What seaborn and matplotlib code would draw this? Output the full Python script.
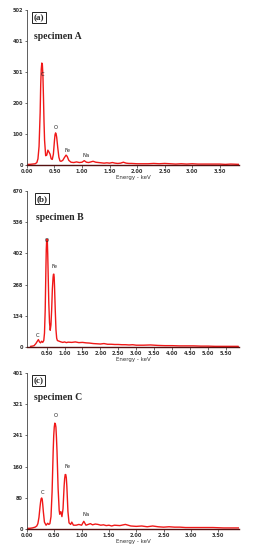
import matplotlib
matplotlib.use("Agg")
import matplotlib.pyplot as plt
import seaborn as sns
import pandas as pd

# ---------------- data ----------------
energy_a = [0.00, 0.05, 0.10, 0.15, 0.18, 0.20, 0.22, 0.24, 0.25, 0.26, 0.27, 0.28, 0.29, 0.30,
            0.31, 0.32, 0.34, 0.36, 0.38, 0.40, 0.42, 0.44, 0.46, 0.48, 0.50, 0.51, 0.52, 0.53,
            0.54, 0.56, 0.58, 0.60, 0.62, 0.65, 0.68, 0.71, 0.73, 0.76, 0.80, 0.85, 0.90, 0.95,
            1.00, 1.04, 1.08, 1.12, 1.16, 1.20, 1.25, 1.30, 1.35, 1.40, 1.45, 1.50, 1.55, 1.60,
            1.65, 1.70, 1.75, 1.80, 1.85, 1.90, 2.00, 2.10, 2.20, 2.30, 2.40, 2.50, 2.60, 2.70,
            2.80, 2.90, 3.00, 3.10, 3.20, 3.30, 3.40, 3.50, 3.60, 3.70, 3.85]
counts_a = [2, 2, 3, 4, 8, 20, 60, 170, 260, 310, 330, 325, 290, 220,
            140, 80, 30, 32, 48, 42, 35, 20, 18, 35, 80, 98, 104, 100,
            90, 55, 25, 13, 12, 15, 24, 32, 28, 15, 9, 8, 10, 8,
            9, 14, 9, 8, 10, 12, 9, 8, 7, 6, 7, 6, 8, 6,
            5, 6, 9, 6, 5, 5, 4, 4, 4, 5, 4, 5, 4, 3,
            4, 3, 4, 3, 3, 3, 3, 3, 2, 3, 2]

energy_b = [0.05, 0.10, 0.15, 0.20, 0.24, 0.27, 0.30, 0.33, 0.36, 0.39, 0.42, 0.44, 0.46, 0.48,
            0.49, 0.50, 0.51, 0.52, 0.53, 0.54, 0.56, 0.58, 0.60, 0.62, 0.64, 0.66, 0.68, 0.69,
            0.70, 0.71, 0.72, 0.74, 0.76, 0.78, 0.80, 0.85, 0.90, 0.95, 1.00, 1.05, 1.10, 1.20,
            1.30, 1.40, 1.50, 1.60, 1.70, 1.80, 1.90, 2.00, 2.10, 2.20, 2.30, 2.40, 2.50, 2.60,
            2.70, 2.80, 2.90, 3.00, 3.20, 3.40, 3.60, 3.80, 4.00, 4.20, 4.40, 4.60, 4.80, 5.00,
            5.20, 5.40, 5.60, 5.85]
counts_b = [3, 4, 6, 15, 25, 32, 22, 18, 25, 20, 28, 60, 160, 340,
            420, 455, 463, 450, 400, 330, 190, 105, 72, 95, 160, 250, 300, 312,
            313, 300, 260, 160, 75, 38, 28, 25, 22, 20, 22, 19, 21, 20,
            22, 19, 20, 18, 17, 15, 14, 13, 15, 12, 12, 11, 11, 10,
            10, 9, 10, 8, 8, 9, 7, 6, 6, 5, 5, 5, 4, 4,
            3, 3, 3, 3]

energy_c = [0.00, 0.05, 0.10, 0.15, 0.18, 0.20, 0.22, 0.24, 0.25, 0.26, 0.27, 0.28, 0.29, 0.30,
            0.32, 0.35, 0.38, 0.40, 0.42, 0.44, 0.46, 0.48, 0.49, 0.50, 0.51, 0.52, 0.53, 0.54,
            0.55, 0.57, 0.59, 0.60, 0.62, 0.64, 0.66, 0.68, 0.69, 0.70, 0.71, 0.72, 0.73, 0.75,
            0.77, 0.80, 0.82, 0.85, 0.90, 0.95, 1.00, 1.04, 1.08, 1.12, 1.16, 1.20, 1.25, 1.30,
            1.35, 1.40, 1.45, 1.50, 1.55, 1.60, 1.70, 1.80, 1.90, 2.00, 2.10, 2.20, 2.30, 2.40,
            2.50, 2.60, 2.70, 2.80, 2.90, 3.00, 3.20, 3.40, 3.60, 3.88]
counts_c = [2, 2, 3, 5, 8, 14, 30, 58, 70, 78, 80, 76, 62, 45,
            18, 10, 15, 12, 14, 32, 95, 200, 240, 262, 272, 270, 262, 235,
            200, 105, 48, 38, 45, 32, 52, 110, 130, 140, 140, 132, 110, 45,
            16, 12, 18, 10, 10, 12, 10, 20, 10, 12, 14, 11, 13, 12,
            10, 11, 9, 10, 8, 10, 9, 12, 8, 7, 8, 6, 8, 6,
            5, 6, 5, 5, 4, 4, 4, 4, 3, 3]

yticks_a = [0, 100, 200, 301, 401, 502]
yticks_b = [0, 134, 268, 402, 536, 670]
yticks_c = [0, 80, 160, 241, 321, 401]
xticks_a = [0.00, 0.50, 1.00, 1.50, 2.00, 2.50, 3.00, 3.50]
xticks_b = [0.50, 1.00, 1.50, 2.00, 2.50, 3.00, 3.50, 4.00, 4.50, 5.00, 5.50]
xticks_c = [0.00, 0.50, 1.00, 1.50, 2.00, 2.50, 3.00, 3.50]

panel_tags = ["(a)", "(b)", "(c)"]
specimens = ["specimen A", "specimen B", "specimen C"]
# peak labels: (text, energy, counts)
labels_a = [("C", 0.28, 285), ("O", 0.53, 112), ("Fe", 0.74, 38), ("Na", 1.08, 22)]
labels_b = [("O", 0.51, 445), ("Fe", 0.73, 335), ("C", 0.25, 40)]
labels_c = [("O", 0.53, 285), ("Fe", 0.74, 155), ("C", 0.28, 88), ("Na", 1.08, 30)]

# ---------------- plotting ----------------
sns.set_style("ticks")
plt.rcParams["font.family"] = ["DejaVu Sans"]

fig = plt.figure(figsize=(2.59, 5.5), dpi=100)
left, width = 0.104, 0.819
rects = [(left, 0.700, width, 0.282),
         (left, 0.369, width, 0.284),
         (left, 0.038, width, 0.284)]
panels = [
    (energy_a, counts_a, yticks_a, xticks_a, (0.0, 3.85), labels_a, (0.035, 0.83)),
    (energy_b, counts_b, yticks_b, xticks_b, (-0.05, 5.87), labels_b, (0.045, 0.83)),
    (energy_c, counts_c, yticks_c, xticks_c, (0.0, 3.88), labels_c, (0.035, 0.845)),
]
red = "#f01818"
for i, (rect, (e, c, yt, xt, xl, labs, spos)) in enumerate(zip(rects, panels)):
    ax = fig.add_axes(rect)
    df = pd.DataFrame({"Energy": e, "Counts": c})
    sns.lineplot(data=df, x="Energy", y="Counts", ax=ax, color=red, lw=1.0)
    ax.set_xlim(*xl)
    ax.set_ylim(0, yt[-1])
    ax.set_yticks(yt)
    ax.set_yticklabels([str(v) for v in yt])
    ax.set_xticks(xt)
    ax.set_xticklabels([f"{v:.2f}" for v in xt])
    ax.tick_params(axis="both", labelsize=3.6, length=1.8, width=0.5, pad=1,
                   colors="#333333")
    for lab in ax.get_xticklabels() + ax.get_yticklabels():
        lab.set_fontweight("bold")
    sns.despine(ax=ax)
    ax.spines["left"].set_color("#444444")
    ax.spines["left"].set_linewidth(0.6)
    ax.spines["bottom"].set_color("#551010")
    ax.spines["bottom"].set_linewidth(1.0)
    ax.set_ylabel("")
    ax.set_xlabel("Energy - keV", fontsize=4, labelpad=0.5, color="#333333")
    ax.text(0.032 if i != 1 else 0.045, 0.975, panel_tags[i], transform=ax.transAxes,
            ha="left", va="top", fontsize=6.5, fontweight="bold",
            family="Liberation Serif",
            bbox=dict(boxstyle="square,pad=0.15", fc="white", ec="#222222", lw=0.7))
    ax.text(spos[0], spos[1], specimens[i], transform=ax.transAxes, ha="left",
            va="center", fontsize=7, fontweight="bold", family="Liberation Serif")
    for t, xe, yc in labs:
        ax.text(xe, yc, t, ha="center", va="bottom", fontsize=3.8, color="#222222")

fig.savefig("out.png", dpi=100)
